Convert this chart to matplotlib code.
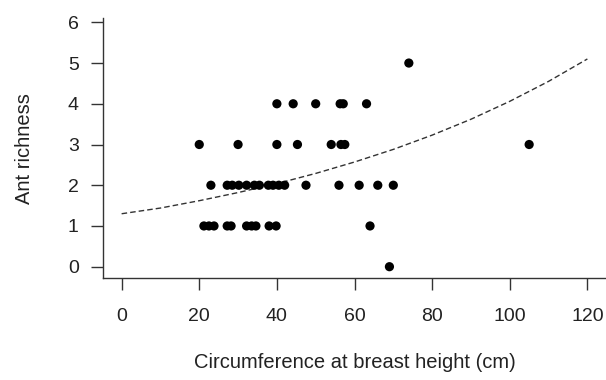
import matplotlib
matplotlib.use("Agg")
import matplotlib.pyplot as plt

# Data
cbh = [69,
       21.2, 22.5, 23.8, 27.2, 28.2, 32.2, 33.5, 34.6, 38, 39.8, 64,
       23, 27.2, 28.5, 30.2, 32.2, 34.2, 35.5, 37.8, 39, 40.5, 42, 47.5, 56, 61.2, 66, 70,
       20, 30, 40, 45.3, 54, 56.5, 57.5, 105,
       40, 44.2, 50, 56.3, 57.1, 63.1,
       74]
richness = [0,
            1, 1, 1, 1, 1, 1, 1, 1, 1, 1, 1,
            2, 2, 2, 2, 2, 2, 2, 2, 2, 2, 2, 2, 2, 2, 2, 2,
            3, 3, 3, 3, 3, 3, 3, 3,
            4, 4, 4, 4, 4, 4,
            5]

# Fitted curve read at regular CBH values
curve_x = [0, 10, 20, 30, 40, 50, 60, 70, 80, 90, 100, 110, 120]
curve_y = [1.30, 1.44, 1.62, 1.82, 2.04, 2.29, 2.57, 2.88, 3.23, 3.62, 4.06, 4.55, 5.10]

x_ticks = [0, 20, 40, 60, 80, 100, 120]
y_ticks = [0, 1, 2, 3, 4, 5, 6]

plt.rcParams['font.family'] = ['Liberation Sans', 'DejaVu Sans']

fig = plt.figure(figsize=(6.06, 3.8), dpi=100)
ax = fig.add_axes([103/606, 1 - 278.3/380, (606 - 103)/606, (278.3 - 18)/380])

ax.scatter(cbh, richness, s=44, color='black', edgecolors='none', zorder=3)
ax.plot(curve_x, curve_y, color='#333333', lw=1.0, dashes=(4, 2.2), zorder=2)

ax.set_xlim(-4.8, 124.8)
ax.set_ylim(-0.285, 6.106)
ax.set_xticks(x_ticks)
ax.set_yticks(y_ticks)

for side in ['top', 'right']:
    ax.spines[side].set_visible(False)
for side in ['left', 'bottom']:
    ax.spines[side].set_color('#333333')
    ax.spines[side].set_linewidth(1.0)

ax.tick_params(axis='both', direction='out', length=8.5, width=1.0,
               color='#333333', labelsize=14, labelcolor='#222222')
ax.tick_params(axis='x', pad=13)
ax.tick_params(axis='y', pad=9)

ax.set_xlabel('Circumference at breast height (cm)', fontsize=14.5,
              color='#222222', labelpad=20)
ax.set_ylabel('Ant richness', fontsize=14.5, color='#222222', labelpad=24)

fig.savefig('out.png', dpi=100)
